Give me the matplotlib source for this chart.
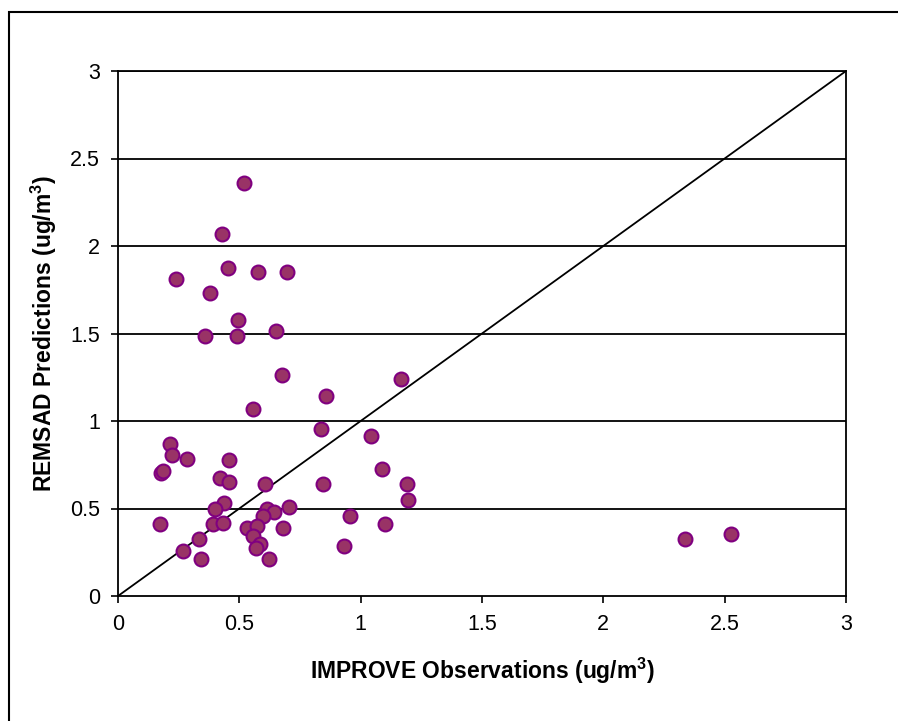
import matplotlib
matplotlib.use("Agg")
import numpy as np
from matplotlib import pyplot as plt
from matplotlib.patches import Rectangle

plt.rcParams['font.family'] = ['Liberation Sans', 'DejaVu Sans']
plt.rcParams['mathtext.fontset'] = 'custom'
plt.rcParams['mathtext.rm'] = 'Liberation Sans'
plt.rcParams['mathtext.bf'] = 'Liberation Sans:bold'

#observed (IMPROVE) vs predicted (REMSAD) concentrations, ug/m3
obs = [0.519, 0.430, 0.452, 0.578, 0.696, 0.238, 0.378, 0.496, 0.357, 0.489,
       0.651, 0.674, 0.858, 0.556, 0.835, 0.216, 0.222, 0.283, 0.459, 0.176,
       0.187, 0.422, 0.459, 0.606, 0.843, 0.438, 0.401, 0.614, 0.703, 0.644,
       0.599, 0.172, 0.393, 0.433, 0.533, 0.571, 0.681, 0.558, 0.334, 0.585,
       0.567, 0.266, 0.341, 0.622, 1.167, 1.044, 1.086, 1.191, 1.197, 0.954,
       1.101, 0.932, 2.335, 2.527]
pred = [2.362, 2.067, 1.874, 1.853, 1.853, 1.811, 1.730, 1.577, 1.488, 1.488,
        1.516, 1.263, 1.141, 1.069, 0.956, 0.867, 0.804, 0.785, 0.775, 0.705,
        0.714, 0.674, 0.651, 0.642, 0.642, 0.531, 0.499, 0.499, 0.511, 0.478,
        0.457, 0.410, 0.410, 0.419, 0.387, 0.400, 0.387, 0.345, 0.327, 0.299,
        0.276, 0.255, 0.213, 0.213, 1.242, 0.916, 0.724, 0.642, 0.550, 0.459,
        0.410, 0.286, 0.326, 0.356]
ticks = [0, 0.5, 1, 1.5, 2, 2.5, 3]
tick_labels = ['0', '0.5', '1', '1.5', '2', '2.5', '3']
one_to_one = [0, 3]

fig = plt.figure(figsize=(8.98, 7.21), dpi=100)
fig.patch.set_facecolor('white')
#outer chart border (right and bottom edges fall off the image)
fig.patches.append(Rectangle((9 / 898, -0.1), 1.0, 1.1 - 12 / 721,
                             transform=fig.transFigure, fill=False,
                             edgecolor='black', linewidth=1.5))

ax = fig.add_axes([118 / 898, 125 / 721, 728 / 898, 525 / 721])
for t in ticks[1:]:
    ax.axhline(t, color='black', linewidth=1.3, zorder=1)
ax.plot(one_to_one, one_to_one, color='black', linewidth=1.3, zorder=2)
ax.scatter(obs, pred, s=100, facecolor='#993366', edgecolor='#800080',
           linewidth=1.5, zorder=3, clip_on=False)

ax.set_xlim(0, 3)
ax.set_ylim(0, 3)
ax.set_xticks(ticks)
ax.set_yticks(ticks)
ax.set_xticklabels(tick_labels)
ax.set_yticklabels(tick_labels)
ax.tick_params(labelsize=15.5, length=5, width=1.2, color='black', pad=8)
for s in ax.spines.values():
    s.set_linewidth(1.3)
    s.set_color('black')

ax.set_xlabel(r'IMPROVE Observations (ug/m$^{\mathbf{3}}$)', fontsize=16.5,
              fontweight='bold', labelpad=15)
ax.set_ylabel(r'REMSAD Predictions (ug/m$^{\mathbf{3}}$)', fontsize=16.5,
              fontweight='bold', labelpad=8)

fig.savefig('out.png', dpi=100)
